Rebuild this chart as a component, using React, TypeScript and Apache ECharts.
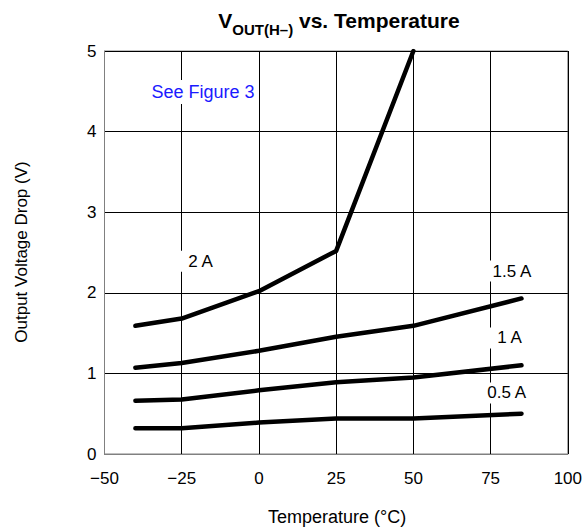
import React, { useEffect, useRef } from "react";
import * as echarts from "echarts";

const temps = [-40, -25, 0, 25, 50, 85];
const temps2A = [-40, -25, 0, 25, 50];
const drop2A = [1.59, 1.68, 2.02, 2.52, 5.0];
const drop1p5A = [1.07, 1.13, 1.28, 1.455, 1.59, 1.93];
const drop1A = [0.66, 0.676, 0.79, 0.89, 0.95, 1.1];
const drop0p5A = [0.32, 0.32, 0.39, 0.44, 0.44, 0.5];

const labelTexts = ["2 A", "1.5 A", "1 A", "0.5 A"];
const labelX = [-18.9, 81.9, 81.1, 80.2];
const labelY = [2.39, 2.27, 1.44, 0.757];

const noteText = "See Figure 3";
const noteX = -18.1;
const noteY = 4.49;

const FONT = "'Liberation Sans', Arial, Helvetica, sans-serif";

const pair = (xs: number[], ys: number[]) => xs.map((x, i) => [x, ys[i]]);

export default function App() {
  const ref = useRef<HTMLDivElement>(null);
  useEffect(() => {
    if (!ref.current) return;
    const chart = echarts.init(ref.current, undefined, { renderer: "svg" });
    const lineSeries = (name: string, data: number[][]) => ({
      type: "line",
      name,
      data,
      symbol: "none",
      silent: true,
      lineStyle: { color: "#000", width: 4.5, cap: "round", join: "round" },
      z: 3,
    });
    chart.setOption({
      animation: false,
      grid: {
        left: 104.5,
        right: 15.5,
        top: 51,
        bottom: 73,
        show: true,
        borderColor: "#808080",
        borderWidth: 1,
      },
      xAxis: {
        type: "value",
        min: -50,
        max: 100,
        interval: 25,
        axisLine: { show: true, onZero: false, lineStyle: { color: "#808080", width: 1 } },
        axisTick: { show: false },
        splitLine: { show: true, lineStyle: { color: "#000", width: 1 } },
        axisLabel: {
          color: "#000",
          fontSize: 17,
          fontFamily: FONT,
          margin: 16,
          formatter: (v: number) => (v < 0 ? "\u2212" + Math.abs(v) : String(v)),
        },
      },
      yAxis: {
        type: "value",
        min: 0,
        max: 5,
        interval: 1,
        axisLine: { show: true, onZero: false, lineStyle: { color: "#808080", width: 1 } },
        axisTick: { show: false },
        splitLine: { show: true, lineStyle: { color: "#000", width: 1 } },
        axisLabel: { color: "#000", fontSize: 17, fontFamily: FONT, margin: 8 },
      },
      series: [
        lineSeries("2 A", pair(temps2A, drop2A)),
        lineSeries("1.5 A", pair(temps, drop1p5A)),
        lineSeries("1 A", pair(temps, drop1A)),
        lineSeries("0.5 A", pair(temps, drop0p5A)),
        {
          type: "scatter",
          silent: true,
          symbolSize: 0,
          z: 4,
          itemStyle: { opacity: 1 },
          data: labelTexts.map((t, i) => ({ value: [labelX[i], labelY[i]], name: t })),
          label: {
            show: true,
            position: "inside",
            formatter: (p: any) => p.name,
            color: "#000",
            opacity: 1,
            fontSize: 17,
            fontFamily: FONT,
            backgroundColor: "#fff",
            padding: [2, 8, 2, 8],
          },
        },
        {
          type: "scatter",
          silent: true,
          symbolSize: 0,
          z: 4,
          itemStyle: { opacity: 1 },
          data: [{ value: [noteX, noteY], name: noteText }],
          label: {
            show: true,
            position: "inside",
            formatter: (p: any) => p.name,
            color: "#1a1aff",
            opacity: 1,
            fontSize: 18,
            fontFamily: FONT,
            backgroundColor: "#fff",
            padding: [3, 4, 3, 4],
          },
        },
      ],
      graphic: [
        {
          type: "text",
          x: 339,
          y: 10,
          style: {
            text: "{v|V}{s|OUT(H\u2013)}{v| vs. Temperature}",
            align: "center",
            verticalAlign: "top",
            fill: "#000",
            rich: {
              v: {
                fontSize: 21,
                fontWeight: "bold",
                fontFamily: FONT,
                lineHeight: 23,
                verticalAlign: "top",
                fill: "#000",
              },
              s: {
                fontSize: 15,
                fontWeight: "bold",
                fontFamily: FONT,
                lineHeight: 15,
                padding: [12, 0, 0, 0],
                verticalAlign: "top",
                fill: "#000",
              },
            },
          },
        },
        {
          type: "text",
          x: 337,
          y: 517,
          style: {
            text: "Temperature (\u00B0C)",
            align: "center",
            verticalAlign: "middle",
            fontSize: 18,
            fontFamily: FONT,
            fill: "#000",
          },
        },
        {
          type: "text",
          x: 21,
          y: 252,
          rotation: Math.PI / 2,
          style: {
            text: "Output Voltage Drop (V)",
            align: "center",
            verticalAlign: "middle",
            fontSize: 17,
            fontFamily: FONT,
            fill: "#000",
          },
        },
      ],
    });
    return () => chart.dispose();
  }, []);
  return (
    <div
      ref={ref}
      style={{ position: "fixed", left: 0, top: 0, width: 585, height: 527, background: "#fff" }}
    />
  );
}
